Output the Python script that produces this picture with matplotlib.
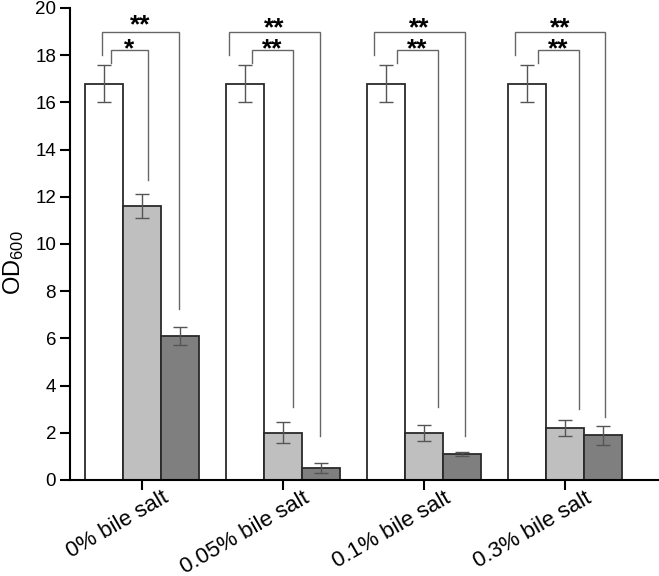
import matplotlib
matplotlib.use("Agg")
import matplotlib.pyplot as plt
from matplotlib.transforms import ScaledTranslation, blended_transform_factory
import numpy as np

plt.rcParams['font.family'] = ['Liberation Sans', 'DejaVu Sans']
plt.rcParams['mathtext.fontset'] = 'custom'
plt.rcParams['mathtext.rm'] = 'Liberation Sans'
plt.rcParams['mathtext.it'] = 'Liberation Sans:italic'

categories = ["0% bile salt", "0.05% bile salt", "0.1% bile salt", "0.3% bile salt"]
white_vals = [16.8, 16.8, 16.8, 16.8]
white_err = [0.8, 0.8, 0.8, 0.8]
light_vals = [11.6, 2.0, 2.0, 2.2]
light_err = [0.5, 0.45, 0.35, 0.35]
dark_vals = [6.1, 0.5, 1.1, 1.9]
dark_err = [0.4, 0.2, 0.1, 0.4]

# significance brackets per group
outer_labels = ["**", "**", "**", "**"]
inner_labels = ["*", "**", "**", "**"]
inner_right_bottom = [12.7, 3.1, 3.1, 3.0]
outer_right_bottom = [7.25, 1.85, 1.85, 2.67]
outer_left_off = [-0.284, -0.383, -0.355, -0.35]
inner_left_off = [-0.22, -0.22, -0.19, -0.19]
inner_right_off = [0.043, 0.071, 0.10, 0.10]
outer_right_off = [0.262, 0.262, 0.29, 0.29]
outer_star_y = [19.62, 19.5, 19.5, 19.5]
inner_star_y = [18.6, 18.58, 18.58, 18.58]

fig = plt.figure(figsize=(6.59, 5.76), dpi=100)
ax = fig.add_axes([70/659, 1-480/576, 1-70/659, (480-8)/576])

x = np.arange(len(categories))
w = 0.27
edge = '#2a2a2a'
ax.bar(x - w, white_vals, w, color='white', edgecolor=edge, linewidth=1.3, zorder=2)
ax.bar(x, light_vals, w, color='#bfbfbf', edgecolor=edge, linewidth=1.3, zorder=2)
ax.bar(x + w, dark_vals, w, color='#7f7f7f', edgecolor=edge, linewidth=1.3, zorder=2)
ekw = dict(fmt='none', ecolor='#555555', elinewidth=1.0, capsize=5, capthick=1.0, zorder=3)
ax.errorbar(x - w, white_vals, yerr=white_err, **ekw)
ax.errorbar(x, light_vals, yerr=light_err, **ekw)
ax.errorbar(x + w, dark_vals, yerr=dark_err, **ekw)

outer_y = 19.0
inner_y = 18.2
outer_left_bottom = 18.0
inner_left_bottom = 17.65
lc = '#666666'
fs_star = 19
for i in range(len(categories)):
    xo1 = x[i] + outer_left_off[i]
    xo2 = x[i] + outer_right_off[i]
    xi1 = x[i] + inner_left_off[i]
    xi2 = x[i] + inner_right_off[i]
    ax.plot([xo1, xo1, xo2, xo2], [outer_left_bottom, outer_y, outer_y, outer_right_bottom[i]],
            color=lc, lw=1.0, zorder=1, solid_joinstyle='miter')
    ax.plot([xi1, xi1, xi2, xi2], [inner_left_bottom, inner_y, inner_y, inner_right_bottom[i]],
            color=lc, lw=1.0, zorder=1, solid_joinstyle='miter')
    ax.annotate(outer_labels[i], ((xo1 + xo2) / 2, outer_star_y[i]), xytext=(0, -0.575 * fs_star),
                textcoords='offset points', ha='center', va='baseline',
                fontsize=fs_star, fontweight='bold')
    ax.annotate(inner_labels[i], ((xi1 + xi2) / 2, inner_star_y[i]), xytext=(0, -0.575 * fs_star),
                textcoords='offset points', ha='center', va='baseline',
                fontsize=fs_star, fontweight='bold')

ax.set_xlim(-0.51, 3.67)
ax.set_ylim(0, 20)
ax.set_yticks(np.arange(0, 21, 2))
ax.set_xticks(x)
ax.set_xticklabels([])
lab_tr = blended_transform_factory(ax.transData, ax.transAxes) + \
    ScaledTranslation(0.20, -0.075, fig.dpi_scale_trans)
for xi, cat in zip(x, categories):
    ax.text(xi, 0, cat, transform=lab_tr, rotation=30, ha='right', va='top',
            rotation_mode='anchor', fontsize=16, clip_on=False)
ax.tick_params(axis='y', labelsize=13.5, direction='out', length=7, width=1.5, pad=3)
ax.tick_params(axis='x', direction='out', length=7, width=1.5, pad=6)
ax.spines['top'].set_visible(False)
ax.spines['right'].set_visible(False)
ax.spines['left'].set_linewidth(1.5)
ax.spines['bottom'].set_linewidth(1.5)
ax.set_ylabel("OD$_{600}$", fontsize=17)
ax.yaxis.set_label_coords(-0.075, 0.46)

fig.savefig("out.png", dpi=100)
